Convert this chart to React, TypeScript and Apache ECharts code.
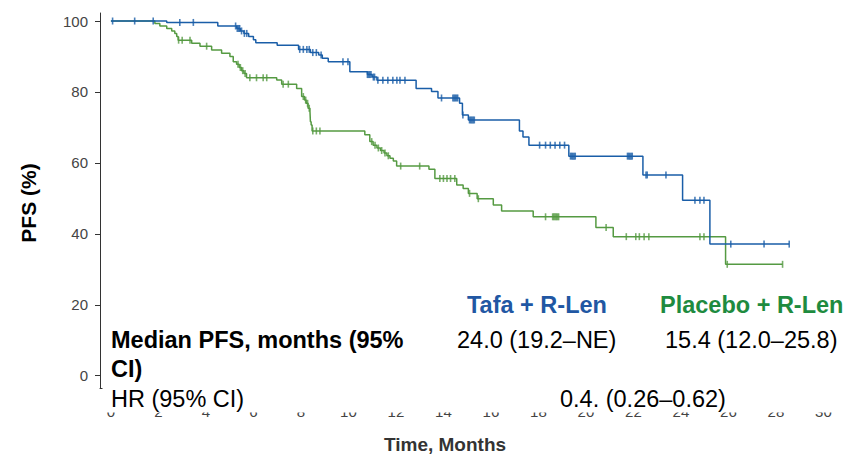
import React, { useEffect, useRef } from "react";
import * as echarts from "echarts";

// Kaplan–Meier steps: [time (months), PFS % after event]
const tafaSteps: [number, number][] = [
  [0, 100], [2.35, 99.6], [4.5, 98.6], [5.3, 97.9], [5.45, 97.2], [5.6, 96.5], [5.8, 95.6],
  [6.0, 94.7], [6.1, 93.9], [7.0, 93.2], [7.9, 92.0], [8.4, 91.1], [8.75, 90.4], [8.9, 89.5],
  [9.15, 88.5], [10.06, 85.7], [10.8, 84.9], [11.0, 84.2], [11.2, 83.3], [12.85, 81.0],
  [13.5, 80.1], [13.77, 78.3], [14.68, 76.8], [14.8, 73.5], [15.05, 72.1], [17.2, 69.0],
  [17.35, 67.3], [17.6, 65.0], [19.28, 61.9], [22.4, 56.6], [24.07, 49.5], [25.22, 37.1],
  [28.56, 37.1],
];
const tafaCensored: number[] = [
  0.07, 1.0, 1.78, 2.9, 3.47, 5.25, 5.32, 5.38, 5.42, 5.5, 5.62, 5.72, 7.95, 8.1, 8.25, 8.35,
  8.5, 8.65, 8.85, 9.77, 9.98, 10.8, 10.85, 10.9, 10.95, 11.05, 11.1, 11.24, 11.45, 11.66,
  11.87, 12.04, 12.17, 12.38, 13.92, 14.4, 14.45, 14.5, 14.55, 14.6, 14.82, 15.1, 15.15,
  15.2, 15.25, 15.3, 18.05, 18.3, 18.5, 18.7, 18.9, 19.1, 19.35, 19.4, 19.45, 19.5, 19.55,
  21.75, 21.8, 21.85, 21.9, 21.95, 22.53, 22.58, 23.37, 24.59, 24.8, 24.97, 26.1, 27.5, 28.56,
];
const placeboSteps: [number, number][] = [
  [0, 100], [1.85, 99.3], [2.06, 98.6], [2.35, 97.9], [2.56, 97.2], [2.69, 96.5], [2.77, 95.6],
  [2.83, 94.6], [3.4, 93.7], [3.75, 92.9], [4.24, 91.8], [4.66, 90.9], [5.01, 90.0], [5.15, 88.5],
  [5.29, 87.8], [5.4, 86.9], [5.5, 86.0], [5.6, 85.2], [5.71, 84.0], [6.98, 83.4], [7.19, 82.2],
  [7.82, 81.0], [8.03, 78.7], [8.15, 77.7], [8.22, 76.8], [8.3, 75.4], [8.38, 74.6], [8.4, 71.6],
  [8.43, 70.7], [8.47, 69.0], [10.69, 67.9], [10.9, 66.0], [11.04, 65.0], [11.2, 64.2],
  [11.35, 63.5], [11.5, 62.8], [11.62, 62.0], [11.75, 61.3], [11.89, 60.5], [12.03, 59.1],
  [13.39, 58.2], [13.64, 55.6], [14.56, 53.8], [14.83, 52.8], [15.05, 51.4], [15.42, 49.9],
  [16.1, 48.1], [16.45, 46.4], [17.78, 44.8], [20.42, 41.8], [21.15, 39.2], [25.88, 31.4],
  [28.28, 31.4],
];
const placeboCensored: number[] = [
  2.85, 3.0, 3.33, 4.03, 5.35, 5.45, 5.55, 5.65, 5.85, 6.13, 6.41, 6.56, 7.25, 7.47, 8.1, 8.2,
  8.28, 8.35, 8.5, 8.65, 8.8, 10.98, 11.12, 11.26, 11.4, 11.54, 11.68, 12.2, 13.0, 13.85, 14.0,
  14.15, 14.3, 14.48, 15.1, 15.47, 18.3, 18.6, 18.65, 18.7, 18.75, 18.8, 18.85, 20.85, 21.7,
  22.1, 22.25, 22.45, 22.65, 24.8, 24.97, 25.95, 28.28,
];
const xTicks: number[] = [0, 2, 4, 6, 8, 10, 12, 14, 16, 18, 20, 22, 24, 26, 28, 30];
const yTicks: number[] = [0, 20, 40, 60, 80, 100];

const tableHeaders = ["Tafa + R-Len", "Placebo + R-Len"];
const medianLabel = ["Median PFS, months (95%", "CI)"];
const medianValues = ["24.0 (19.2–NE)", "15.4 (12.0–25.8)"];
const hrLabel = "HR (95% CI)";
const hrValue = "0.4. (0.26–0.62)";

const BLUE = "#1a5ea8";
const GREEN = "#559a42";
const BLUE_TEXT = "#2157a3";
const GREEN_TEXT = "#1e8b3f";
const FONT = '"Liberation Sans", Arial, Helvetica, sans-serif';

function survAt(steps: [number, number][], t: number): number {
  let s = steps[0][1];
  for (const [st, sv] of steps) {
    if (st <= t) s = sv;
    else break;
  }
  return s;
}

function txt(text: string, x: number, y: number, opts: any = {}) {
  return {
    type: "text",
    x,
    y,
    z: 60,
    rotation: opts.rotation || 0,
    style: {
      text,
      fill: opts.fill || "#000",
      font: `${opts.bold ? "bold " : ""}${opts.size || 23.5}px ${FONT}`,
      align: opts.align || "left",
      textAlign: opts.align || "left",
      verticalAlign: "middle",
      textVerticalAlign: "middle",
    },
  };
}

export default function App() {
  const ref = useRef<HTMLDivElement>(null);
  useEffect(() => {
    const chart = echarts.init(ref.current!, null, { renderer: "svg" });
    const option: any = {
      animation: false,
      grid: {
        left: 100,
        right: 12.7,
        top: 13,
        bottom: 67,
        containLabel: false,
        outerBoundsMode: "none",
      },
      xAxis: {
        type: "value",
        min: -0.46,
        max: 30.5,
        axisLine: { show: true, onZero: false, lineStyle: { color: "#333", width: 1 } },
        axisTick: { show: true, length: 5, customValues: xTicks, lineStyle: { color: "#333" } },
        axisLabel: { customValues: xTicks, color: "#444", fontSize: 15, margin: 16, fontFamily: FONT },
        splitLine: { show: false },
      },
      yAxis: {
        type: "value",
        min: -3.47,
        max: 102.26,
        axisLine: { show: true, onZero: false, lineStyle: { color: "#333", width: 1 } },
        axisTick: { show: true, length: 5, customValues: yTicks, lineStyle: { color: "#333" } },
        axisLabel: { customValues: yTicks, color: "#444", fontSize: 15, margin: 12, fontFamily: FONT },
        splitLine: { show: false },
      },
      series: [
        {
          type: "line",
          step: "end",
          data: placeboSteps,
          symbol: "none",
          lineStyle: { color: GREEN, width: 1.5 },
          z: 3,
        },
        {
          type: "scatter",
          data: placeboCensored.map((t) => [t, survAt(placeboSteps, t)]),
          symbol: "rect",
          symbolSize: [1.6, 7],
          itemStyle: { color: GREEN },
          z: 4,
        },
        {
          type: "line",
          step: "end",
          data: tafaSteps,
          symbol: "none",
          lineStyle: { color: BLUE, width: 1.5 },
          z: 5,
        },
        {
          type: "scatter",
          data: tafaCensored.map((t) => [t, survAt(tafaSteps, t)]),
          symbol: "rect",
          symbolSize: [1.6, 7],
          itemStyle: { color: BLUE },
          z: 6,
        },
      ],
      graphic: [
        {
          type: "rect",
          z: 50,
          shape: { x: 102.5, y: 282, width: 746, height: 130.5 },
          style: { fill: "#fff" },
        },
        txt(tableHeaders[0], 467, 305, { bold: true, fill: BLUE_TEXT }),
        txt(tableHeaders[1], 660, 305, { bold: true, fill: GREEN_TEXT }),
        txt(medianLabel[0], 111, 340, { bold: true }),
        txt(medianLabel[1], 111, 369, { bold: true }),
        txt(medianValues[0], 457, 340),
        txt(medianValues[1], 665, 340),
        txt(hrLabel, 111, 399),
        txt(hrValue, 560, 399),
        txt("Time, Months", 445, 444, { bold: true, size: 19, fill: "#333", align: "center" }),
        txt("PFS (%)", 28, 203, { bold: true, size: 21, align: "center", rotation: Math.PI / 2 }),
      ],
    };
    chart.setOption(option);
    return () => chart.dispose();
  }, []);
  return (
    <div
      ref={ref}
      style={{ position: "absolute", left: 0, top: 0, width: 848, height: 455 }}
    />
  );
}
